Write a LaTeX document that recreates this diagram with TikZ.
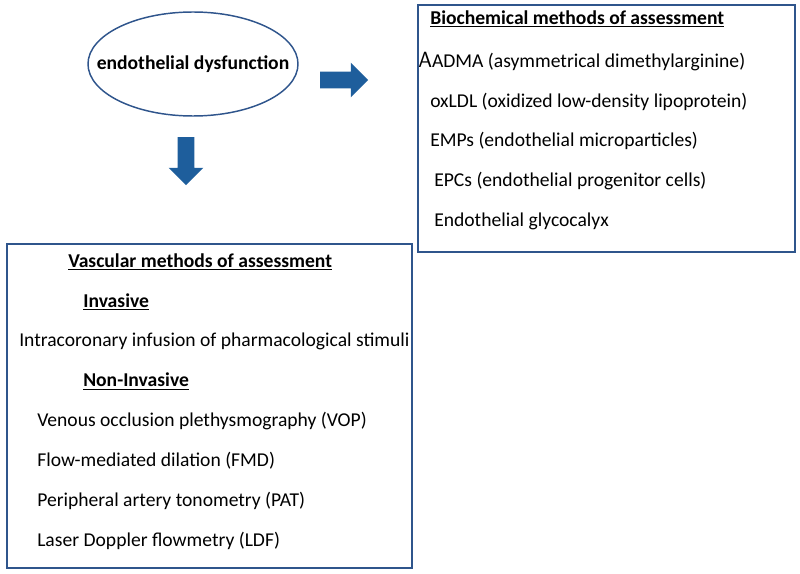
\documentclass[tikz,border=0pt]{standalone}
\usepackage{fontspec}
\setmainfont{Carlito}
\usetikzlibrary{shapes.geometric,shapes.arrows,positioning}
\definecolor{edgeblue}{RGB}{47,85,140}
\definecolor{arrowblue}{RGB}{30,94,156}

\begin{document}
\begin{tikzpicture}[
    x=0.75pt, y=-0.75pt,
    node distance=15.5pt,
    item/.style={anchor=west, inner sep=0pt, font=\fontsize{14.7}{16}\selectfont, text height=10.5pt, text depth=3.5pt},
    head/.style={item, font=\fontsize{14.7}{16}\selectfont\bfseries},
    panel/.style={rectangle, draw=edgeblue, line width=1.4pt, inner sep=0pt},
    blockarrow/.style={single arrow, fill=arrowblue, draw=none, inner xsep=0pt, inner ysep=6pt, minimum height=36pt, single arrow head extend=6.75pt}
]
    \useasboundingbox (0,0) rectangle (800,574);

    % top: the starting term and the two arrows
    \node[ellipse, draw=edgeblue, line width=1.1pt, minimum width=157.5pt, minimum height=78pt] (dysf) at (193,64) {};
    \node[inner sep=0pt, font=\fontsize{14.7}{16}\selectfont\bfseries] (dysfText) at (dysf.center) {endothelial dysfunction};
    \node[blockarrow] (toBio) at (340,80) {};
    \node[blockarrow, rotate=-90] (toVasc) at (186,157) {};

    % biochemical panel
    \node[panel, minimum width=282.75pt, minimum height=185.25pt] (bio) at (606.5,128.5) {};
    \node[head] (bioHead) at (430,20) {\underline{Biochemical methods of assessment}};
    \node[item, below=17.5pt of bioHead.south west, anchor=north west, xshift=-9pt] (adma) {{\fontsize{16.5}{16}\selectfont\sffamily A}ADMA (asymmetrical dimethylarginine)};
    \node[item, below=of adma.south west, anchor=north west, xshift=9pt] (oxldl) {oxLDL (oxidized low-density lipoprotein)};
    \node[item, below=of oxldl.south west, anchor=north west] (emps) {EMPs (endothelial microparticles)};
    \node[item, below=of emps.south west, anchor=north west, xshift=3pt] (epcs) {EPCs (endothelial progenitor cells)};
    \node[item, below=of epcs.south west, anchor=north west] (glyco) {Endothelial glycocalyx};

    % vascular panel
    \node[panel, minimum width=303.75pt, minimum height=243pt] (vasc) at (209.5,406) {};
    \node[head] (vascHead) at (68,262.5) {\underline{Vascular methods of assessment}};
    \node[head, below=of vascHead.south west, anchor=north west, xshift=11.25pt] (inv) {\underline{Invasive}};
    \node[item, below=of inv.south west, anchor=north west, xshift=-48pt] (icor) {Intracoronary infusion of pharmacological stimuli};
    \node[head, below=of icor.south west, anchor=north west, xshift=48pt] (noninv) {\underline{Non-Invasive}};
    \node[item, below=of noninv.south west, anchor=north west, xshift=-34.5pt] (vop) {Venous occlusion plethysmography (VOP)};
    \node[item, below=of vop.south west, anchor=north west] (fmd) {Flow-mediated dilation (FMD)};
    \node[item, below=of fmd.south west, anchor=north west] (pat) {Peripheral artery tonometry (PAT)};
    \node[item, below=of pat.south west, anchor=north west] (ldf) {Laser Doppler flowmetry (LDF)};
\end{tikzpicture}
\end{document}
